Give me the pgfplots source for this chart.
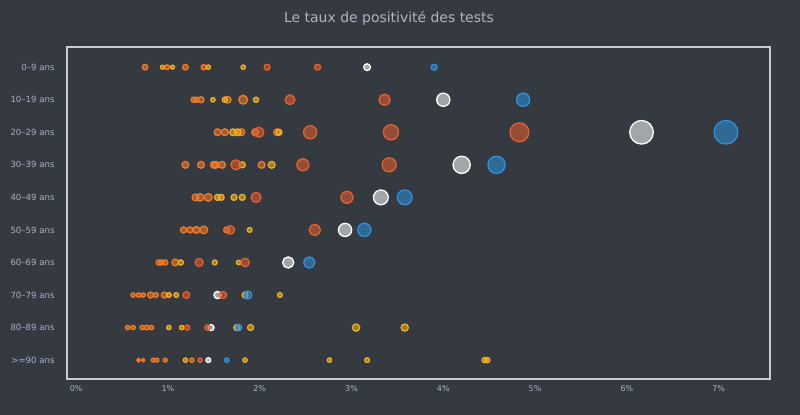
\documentclass[border=0pt]{standalone}
\usepackage{fontspec}
\setmainfont{DejaVu Sans}
\usepackage{pgfplots}
\pgfplotsset{compat=1.18}
\usepackage{pgfplotstable}

\definecolor{bgc}{RGB}{52,58,64}
\definecolor{framec}{RGB}{200,204,210}
\definecolor{tickc}{RGB}{165,178,200}
\definecolor{titlec}{RGB}{172,182,196}
\definecolor{cyel}{RGB}{242,176,33}
\definecolor{cora}{RGB}{240,122,40}
\definecolor{cred}{RGB}{229,96,45}
\definecolor{cwhi}{RGB}{255,255,255}
\definecolor{cblu}{RGB}{48,144,220}

% x = taux (%), y = tranche d'age (0 = 0-9 ans ... 9 = >=90 ans), r = rayon
\pgfplotstableread{
x y r
0.75 0 2.8
0.99 0 2.4
1.19 0 2.8
1.39 0 2.6
1.28 1 2.6
1.31 1 2.6
1.36 1 3.0
1.65 1 3.4
1.82 1 4.4
1.54 2 3.4
1.62 2 3.4
1.80 2 3.4
1.95 2 3.4
2.19 2 3.4
1.19 3 3.4
1.36 3 3.4
1.50 3 3.4
1.52 3 3.4
1.59 3 3.4
2.02 3 3.4
1.30 4 3.4
1.35 4 3.8
1.44 4 3.8
1.17 5 3.0
1.24 5 3.0
1.31 5 3.4
1.39 5 3.8
1.64 5 3.0
0.90 6 2.6
0.93 6 2.6
0.97 6 2.6
1.08 6 3.4
0.62 7 2.2
0.68 7 2.2
0.73 7 2.2
0.81 7 3.0
0.87 7 2.4
0.96 7 3.0
0.56 8 2.2
0.62 8 2.2
0.72 8 2.2
0.77 8 2.4
0.82 8 2.2
0.68 9 1.8
0.73 9 1.7
0.84 9 2.0
0.88 9 2.0
0.97 9 2.0
1.26 9 2.2
}\orange

\pgfplotstableread{
x y r
0.94 0 2.0
1.05 0 2.0
1.44 0 2.2
1.82 0 2.2
1.49 1 2.2
1.62 1 2.6
1.96 1 2.6
1.71 2 3.4
1.76 2 3.4
2.21 2 3.0
1.81 3 3.0
2.13 3 3.4
1.54 4 3.0
1.58 4 3.0
1.72 4 3.0
1.81 4 3.0
1.89 5 2.4
1.14 6 2.6
1.51 6 2.4
1.77 6 2.2
1.01 7 2.4
1.09 7 2.4
1.84 7 3.0
2.22 7 2.4
1.01 8 2.2
1.15 8 2.2
1.75 8 3.0
1.90 8 3.0
3.05 8 3.6
3.58 8 3.6
1.19 9 2.2
1.84 9 2.2
2.76 9 2.2
3.17 9 2.4
4.45 9 2.6
4.48 9 2.6
}\yellow

\pgfplotstableread{
x y r
2.08 0 3.0
2.63 0 3.0
2.33 1 4.8
3.36 1 5.6
1.99 2 5.0
2.55 2 6.6
3.43 2 7.6
4.83 2 9.4
1.74 3 5.0
2.47 3 6.0
3.41 3 7.0
1.96 4 5.0
2.95 4 6.0
1.68 5 4.2
2.60 5 5.6
1.34 6 4.0
1.84 6 4.2
1.20 7 3.4
1.60 7 3.6
1.21 8 2.6
1.43 8 2.6
1.35 9 2.2
}\red

\pgfplotstableread{
x y r
3.17 0 3.4
4.00 1 6.6
6.16 2 11.8
4.20 3 8.6
3.32 4 7.4
2.93 5 6.6
2.31 6 5.6
1.54 7 3.6
1.47 8 3.0
1.44 9 2.4
}\white

\pgfplotstableread{
x y r
3.90 0 3.0
4.87 1 6.6
7.08 2 11.8
4.58 3 8.6
3.58 4 7.4
3.14 5 6.6
2.54 6 5.6
1.87 7 4.0
1.77 8 3.2
1.64 9 2.2
}\blue

\pgfplotsset{
  bub/.style={scatter, only marks, mark=*,
    visualization depends on={\thisrow{r}\as\bubsize},
    scatter/@pre marker code/.code={\scope[mark size=\bubsize bp, draw=#1, fill=#1, fill opacity=0.55, line width=1.3bp]},
    scatter/@post marker code/.code={\endscope}},
}

\begin{document}
\begin{tikzpicture}
\fill[bgc] (-67bp,-36bp) rectangle (733bp,379bp);
\begin{axis}[
  at={(0,0)}, anchor=south west,
  scale only axis, width=703bp, height=332bp,
  xmin=-0.1, xmax=7.56, ymin=-0.62, ymax=9.58, y dir=reverse,
  axis line style={draw=framec, line width=1.1bp},
  xtick={0,1,2,3,4,5,6,7},
  xticklabels={0\%,1\%,2\%,3\%,4\%,5\%,6\%,7\%},
  ytick={0,1,2,3,4,5,6,7,8,9},
  yticklabels={0–9 ans,10–19 ans,20–29 ans,30–39 ans,40–49 ans,50–59 ans,60–69 ans,70–79 ans,80–89 ans,{>}=90 ans},
  major tick length=0pt,
  tick style={draw=none},
  xticklabel style={font=\fontsize{8}{9}\selectfont, text=tickc, yshift=-3bp},
  yticklabel style={font=\fontsize{8.6}{10}\selectfont, text=tickc, xshift=-9bp},
]
\addplot[bub=cora] table {\orange};
\addplot[bub=cyel] table {\yellow};
\addplot[bub=cwhi] table {\white};
\addplot[bub=cred] table {\red};
\addplot[bub=cblu] table {\blue};
\end{axis}
\node[text=titlec, font=\fontsize{14}{16}\selectfont] at (322bp,361bp) {Le taux de positivité des tests};
\end{tikzpicture}
\end{document}
